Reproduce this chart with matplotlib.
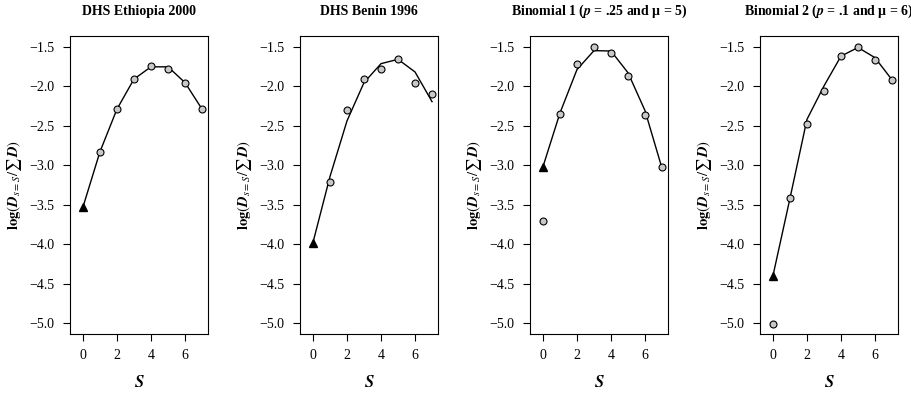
import matplotlib
matplotlib.use("Agg")
from matplotlib import pyplot as plt

plt.rcParams["font.family"] = ["Liberation Serif", "DejaVu Serif"]
plt.rcParams["mathtext.fontset"] = "stix"

titles = [
    "DHS Ethiopia 2000",
    "DHS Benin 1996",
    r"Binomial 1 ($\mathbfit{p}$ = .25 and μ = 5)",
    r"Binomial 2 ($\mathbfit{p}$ = .1 and μ = 6)",
]

s_obs = [1, 2, 3, 4, 5, 6, 7]
s_fit = [0, 1, 2, 3, 4, 5, 6, 7]

# observed log proportions (circles)
obs = [
    [-2.83, -2.29, -1.91, -1.745, -1.785, -1.955, -2.29],
    [-3.215, -2.30, -1.91, -1.78, -1.655, -1.965, -2.10],
    [-2.355, -1.72, -1.50, -1.575, -1.87, -2.368, -3.027],
    [-3.42, -2.475, -2.06, -1.618, -1.50, -1.673, -1.92],
]
# observed value at s = 0 (only for the binomial panels)
obs0 = [None, None, -3.71, -5.01]

# fitted curve (line, first point drawn as triangle)
fit = [
    [-3.53, -2.83, -2.29, -1.91, -1.755, -1.755, -1.955, -2.29],
    [-3.98, -3.145, -2.44, -1.955, -1.715, -1.66, -1.82, -2.196],
    [-3.02, -2.34, -1.79, -1.55, -1.555, -1.83, -2.31, -3.04],
    [-4.40, -3.42, -2.42, -1.997, -1.62, -1.51, -1.64, -1.92],
]

fig = plt.figure(figsize=(9.12, 3.95), dpi=100)
W, H = 912, 395

for i in range(4):
    left = 70 + 230 * i
    ax = fig.add_axes([left / W, (H - 334) / H, 138 / W, 298 / H])
    ax.plot(s_fit, fit[i], color="black", lw=1.0, zorder=2)
    ax.plot(s_fit[0], fit[i][0], marker="^", color="black", ms=6, ls="none", zorder=3)
    ax.plot(s_obs, obs[i], marker="o", ls="none", mfc="#c8c8c8", mec="black",
            mew=0.8, ms=5, zorder=4)
    if obs0[i] is not None:
        ax.plot(0, obs0[i], marker="o", ls="none", mfc="#c8c8c8", mec="black",
                mew=0.8, ms=5, zorder=4)
    ax.set_xlim(-0.76, 7.35)
    ax.set_ylim(-5.135, -1.365)
    ax.set_xticks([0, 2, 4, 6])
    ax.set_yticks([-1.5, -2.0, -2.5, -3.0, -3.5, -4.0, -4.5, -5.0])
    ax.set_yticklabels(["\u22121.5", "\u22122.0", "\u22122.5", "\u22123.0",
                        "\u22123.5", "\u22124.0", "\u22124.5", "\u22125.0"])
    ax.tick_params(direction="out", length=5, width=0.8, labelsize=10, pad=6)
    for sp in ax.spines.values():
        sp.set_linewidth(0.8)
    ax.set_title(titles[i], fontsize=10, fontweight="bold", pad=15)
    ax.set_xlabel(r"$\mathbfit{S}$", fontsize=12, labelpad=9)
    ax.set_ylabel(r"$\mathbf{log}(\mathbfit{D}_{s=S}/\sum\,\mathbfit{D})$",
                  fontsize=10.5, labelpad=4)

fig.savefig("out.png", dpi=100)
